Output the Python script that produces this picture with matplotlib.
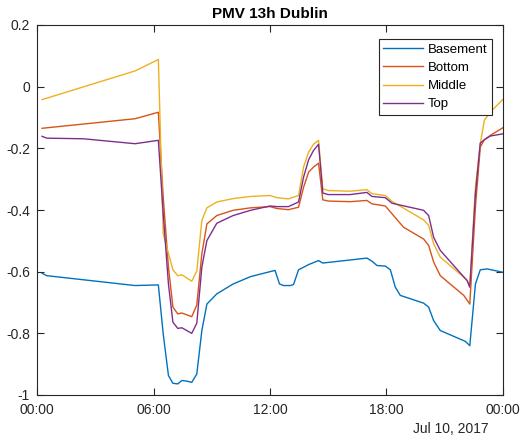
import numpy as np
import matplotlib
matplotlib.use("Agg")
import matplotlib.pyplot as plt

plt.rcParams['font.family'] = ['Liberation Sans', 'DejaVu Sans']

# hours of the day (Jul 10, 2017) and PMV readings
basement_t = [0.26, 0.5, 5.05, 6.25, 6.5, 6.77, 7.0, 7.25, 7.46, 7.72, 7.97, 8.23, 8.49, 8.75,
              9.26, 10.1, 11.0, 12.0, 12.26, 12.49, 12.7, 13.04, 13.21, 13.47, 13.99, 14.5, 14.72,
              16.99, 17.25, 17.51, 17.94, 18.2, 18.45, 18.71, 19.91, 20.17, 20.43, 20.77, 22.06,
              22.29, 22.58, 22.83, 23.18, 24.0]
basement = [-0.605, -0.613, -0.645, -0.643, -0.802, -0.937, -0.962, -0.964, -0.953, -0.955, -0.959,
            -0.932, -0.791, -0.705, -0.672, -0.640, -0.616, -0.600, -0.596, -0.640, -0.645, -0.645,
            -0.642, -0.594, -0.577, -0.564, -0.572, -0.556, -0.566, -0.580, -0.582, -0.594, -0.650,
            -0.677, -0.702, -0.715, -0.759, -0.791, -0.826, -0.840, -0.640, -0.594, -0.591, -0.602]

bottom_t = [0.26, 5.05, 6.25, 6.5, 6.77, 7.0, 7.25, 7.46, 7.97, 8.23, 8.49, 8.75, 9.26, 10.1, 11.0,
            12.0, 12.35, 12.95, 13.47, 13.73, 13.99, 14.24, 14.5, 14.72, 15.0, 16.13, 16.99, 17.25,
            17.94, 18.28, 18.88, 19.91, 20.17, 20.43, 20.77, 21.98, 22.29, 22.58, 22.83, 23.04,
            23.35, 24.0]
bottom = [-0.135, -0.104, -0.083, -0.358, -0.585, -0.715, -0.737, -0.734, -0.746, -0.708, -0.542,
          -0.445, -0.418, -0.401, -0.393, -0.389, -0.395, -0.399, -0.391, -0.326, -0.277, -0.261,
          -0.248, -0.367, -0.371, -0.373, -0.369, -0.380, -0.387, -0.412, -0.456, -0.494, -0.515,
          -0.569, -0.613, -0.677, -0.705, -0.390, -0.196, -0.172, -0.158, -0.133]

middle_t = [0.26, 5.05, 6.25, 6.5, 7.0, 7.25, 7.46, 7.97, 8.23, 8.49, 8.75, 9.26, 10.1, 11.0, 12.0,
            12.35, 12.95, 13.47, 13.73, 13.99, 14.24, 14.5, 14.72, 15.0, 16.13, 16.99, 17.25, 17.94,
            18.28, 19.91, 20.17, 20.43, 20.77, 22.15, 22.29, 22.58, 22.83, 23.04, 23.35, 24.0]
middle = [-0.042, 0.051, 0.088, -0.477, -0.594, -0.613, -0.610, -0.631, -0.598, -0.434, -0.393,
          -0.374, -0.363, -0.356, -0.353, -0.360, -0.364, -0.353, -0.260, -0.212, -0.187, -0.174,
          -0.331, -0.337, -0.339, -0.334, -0.347, -0.353, -0.372, -0.432, -0.450, -0.510, -0.553,
          -0.627, -0.650, -0.326, -0.185, -0.109, -0.082, -0.041]

top_t = [0.26, 0.5, 2.39, 5.05, 6.25, 6.5, 6.77, 7.0, 7.25, 7.46, 7.97, 8.23, 8.49, 8.75, 9.26,
         10.1, 11.0, 12.0, 12.35, 12.95, 13.47, 13.73, 13.99, 14.24, 14.5, 14.72, 15.0, 16.13,
         16.99, 17.25, 17.94, 18.28, 19.91, 20.17, 20.43, 20.77, 22.15, 22.29, 22.58, 22.83,
         23.04, 23.35, 24.0]
top = [-0.161, -0.167, -0.169, -0.185, -0.174, -0.412, -0.640, -0.764, -0.784, -0.782, -0.800,
       -0.767, -0.585, -0.499, -0.443, -0.418, -0.401, -0.387, -0.389, -0.389, -0.374, -0.293,
       -0.237, -0.207, -0.187, -0.345, -0.350, -0.350, -0.343, -0.356, -0.360, -0.378, -0.401,
       -0.418, -0.489, -0.531, -0.629, -0.650, -0.347, -0.183, -0.172, -0.160, -0.153]

tick_hours = [0, 6, 12, 18, 24]
tick_labels = ["00:00", "06:00", "12:00", "18:00", "00:00"]

fig = plt.figure(figsize=(5.26, 4.42), dpi=100)
ax = fig.add_axes([37 / 526, 1 - 395 / 442, 466 / 526, 370 / 442])

ax.plot(basement_t, basement, color="#0072BD", lw=1.0, label="Basement")
ax.plot(bottom_t, bottom, color="#D95319", lw=1.0, label="Bottom")
ax.plot(middle_t, middle, color="#EDB120", lw=1.0, label="Middle")
ax.plot(top_t, top, color="#7E2F8E", lw=1.0, label="Top")

ax.set_xlim(0, 24)
ax.set_ylim(-1, 0.2)
ax.set_xticks(tick_hours)
ax.set_xticklabels(tick_labels)
ax.set_yticks([-1, -0.8, -0.6, -0.4, -0.2, 0, 0.2])
ax.set_yticklabels(["-1", "-0.8", "-0.6", "-0.4", "-0.2", "0", "0.2"])
ax.tick_params(direction="in", length=5, width=0.8, top=True, right=True,
               labelsize=10, colors="#262626")
ax.tick_params(axis="x", pad=6)
ax.tick_params(axis="y", pad=5)
for s in ax.spines.values():
    s.set_color("#262626")
    s.set_linewidth(0.8)

ax.set_title("PMV 13h Dublin", fontsize=11, fontweight="bold", pad=5)
ax.text(0.97, -0.092, "Jul 10, 2017", transform=ax.transAxes, ha="right", va="center",
        fontsize=10, color="#262626")

leg = ax.legend(loc="upper right", bbox_to_anchor=(0.976, 0.962), fontsize=9.5,
                fancybox=False, framealpha=1, edgecolor="#262626", handlelength=3.0,
                handletextpad=0.35, labelspacing=0.45, borderpad=0.35, borderaxespad=0)
leg.get_frame().set_linewidth(0.8)

fig.savefig("out.png", dpi=100)
